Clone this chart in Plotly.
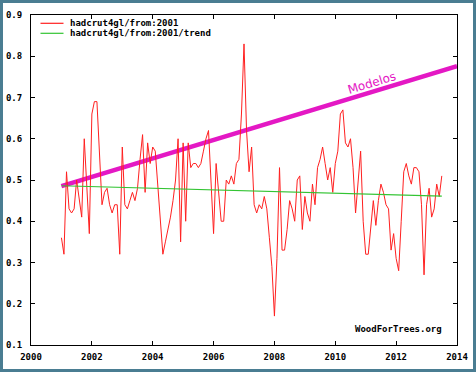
import plotly.graph_objects as go

# HadCRUT4 global monthly anomaly from Jan 2001
hadcrut = [
    0.36, 0.32, 0.52, 0.43, 0.42, 0.43, 0.50, 0.45, 0.41, 0.60, 0.48, 0.37,  # 2001
    0.66, 0.69, 0.69, 0.55, 0.44, 0.47, 0.48, 0.44, 0.42, 0.44, 0.44, 0.32,  # 2002
    0.58, 0.44, 0.43, 0.45, 0.47, 0.45, 0.48, 0.55, 0.61, 0.47, 0.59, 0.54,  # 2003
    0.58, 0.57, 0.48, 0.40, 0.32, 0.35, 0.38, 0.41, 0.45, 0.50, 0.60, 0.35,  # 2004
    0.59, 0.40, 0.59, 0.53, 0.54, 0.54, 0.53, 0.54, 0.57, 0.60, 0.62, 0.50,  # 2005
    0.37, 0.54, 0.46, 0.40, 0.40, 0.50, 0.49, 0.51, 0.49, 0.54, 0.55, 0.66,  # 2006
    0.83, 0.62, 0.52, 0.58, 0.44, 0.42, 0.44, 0.43, 0.46, 0.43, 0.36, 0.29,  # 2007
    0.17, 0.31, 0.53, 0.33, 0.33, 0.38, 0.45, 0.43, 0.40, 0.50, 0.51, 0.38,  # 2008
    0.46, 0.42, 0.40, 0.49, 0.44, 0.53, 0.55, 0.58, 0.54, 0.50, 0.53, 0.47,  # 2009
    0.54, 0.57, 0.66, 0.67, 0.59, 0.58, 0.60, 0.53, 0.42, 0.50, 0.57, 0.40,  # 2010
    0.32, 0.32, 0.39, 0.45, 0.39, 0.45, 0.49, 0.47, 0.44, 0.43, 0.33, 0.37,  # 2011
    0.31, 0.28, 0.40, 0.52, 0.54, 0.51, 0.49, 0.53, 0.53, 0.52, 0.44, 0.27,  # 2012
    0.44, 0.48, 0.41, 0.43, 0.49, 0.46, 0.51,                                # 2013
]
start_year = 2001
months = [start_year + i / 12 for i in range(len(hadcrut))]

trend_x = [2001.0, 2013.5]
trend_y = [0.486, 0.461]

models_x = [2001.0, 2014.0]
models_y = [0.485, 0.776]

series_names = ["hadcrut4gl/from:2001", "hadcrut4gl/from:2001/trend"]
x_ticks = [2000, 2002, 2004, 2006, 2008, 2010, 2012, 2014]
y_ticks = [0.1, 0.2, 0.3, 0.4, 0.5, 0.6, 0.7, 0.8, 0.9]

mono = "DejaVu Sans Mono"
magenta = "#e418c4"
red = "#ff2020"
green = "#33c433"

# plot-area geometry in pixels (for paper-coordinate placement)
L, R, T, B = 31, 457, 15, 345
W, H = R - L, B - T
def px(x):
    return (x - L) / W
def py(y):
    return (B - y) / H

fig = go.Figure()
fig.add_trace(go.Scatter(x=models_x, y=models_y, mode="lines",
                         line=dict(color=magenta, width=4.5), showlegend=False))
fig.add_trace(go.Scatter(x=months, y=hadcrut, mode="lines", name=series_names[0],
                         line=dict(color=red, width=1), showlegend=False))
fig.add_trace(go.Scatter(x=trend_x, y=trend_y, mode="lines", name=series_names[1],
                         line=dict(color=green, width=1.2), showlegend=False))

axis_common = dict(showgrid=False, zeroline=False, showline=True, linecolor="#000000",
                   linewidth=1, mirror="ticks", ticks="inside", ticklen=4,
                   tickcolor="#000000", automargin=False,
                   tickfont=dict(family=mono, size=9, color="#000000", weight="bold"))

fig.update_xaxes(range=[2000, 2014], tickvals=x_ticks, ticktext=[str(v) for v in x_ticks],
                 ticklabelstandoff=3, **axis_common)
fig.update_yaxes(range=[0.0999, 0.9001], tickvals=y_ticks,
                 ticktext=["%.1f" % v for v in y_ticks],
                 ticklabelstandoff=6, **axis_common)

# legend drawn by hand (compact, like the original)
for k, (name, col) in enumerate(zip(series_names, [red, green])):
    yy = py(23.3 + 10 * k)
    fig.add_shape(type="line", xref="paper", yref="paper", x0=px(40.5), x1=px(63.5),
                  y0=yy, y1=yy, line=dict(color=col, width=1.2))
    fig.add_annotation(x=px(68), y=yy, xref="paper", yref="paper", text=name,
                       showarrow=False, xanchor="left", yanchor="middle",
                       font=dict(family=mono, size=9, color="#000000", weight="bold"))

fig.add_annotation(x=2011.2, y=0.735, text="Modelos", showarrow=False, textangle=-16.8,
                   font=dict(family="DejaVu Sans", size=12, color=magenta))
fig.add_annotation(x=px(444), y=py(329), xref="paper", yref="paper", text="WoodForTrees.org",
                   showarrow=False, xanchor="right", yanchor="middle",
                   font=dict(family=mono, size=9, color="#000000", weight="bold"))

# outer frame of the picture
fig.add_shape(type="rect", xref="paper", yref="paper",
              x0=px(1.5), x1=px(474.5), y0=py(370.5), y1=py(1.5),
              line=dict(color="#4a7d92", width=3), fillcolor="rgba(0,0,0,0)")

fig.update_layout(
    width=476, height=372,
    margin=dict(l=L, r=476 - R, t=T, b=372 - B, autoexpand=False),
    paper_bgcolor="#ffffff", plot_bgcolor="#ffffff",
    showlegend=False,
)

fig.write_html("out.html", config={"displayModeBar": False},
               post_script="document.body.style.margin='0';document.body.style.overflow='hidden';")
